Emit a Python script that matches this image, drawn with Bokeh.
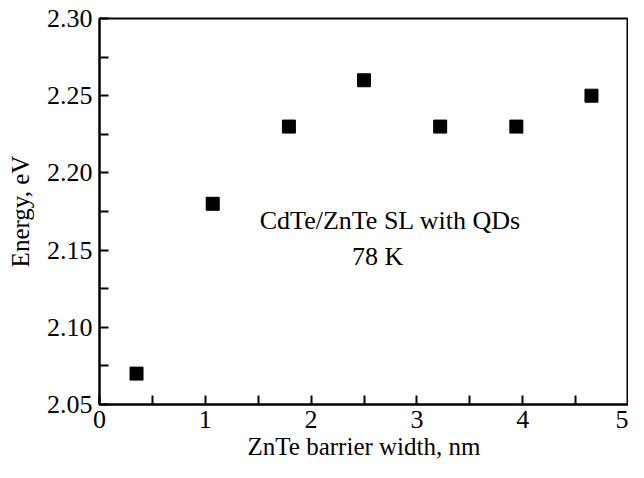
from bokeh.plotting import figure
from bokeh.models import Range1d, FixedTicker, ColumnDataSource, Label
from bokeh.embed import file_html
from bokeh.resources import INLINE

# data
barrier_nm = [0.35, 1.07, 1.79, 2.50, 3.22, 3.94, 4.65]
energy_ev = [2.07, 2.18, 2.23, 2.26, 2.23, 2.23, 2.25]

x_major = [0, 1, 2, 3, 4, 5]
x_minor = [0.5, 1.5, 2.5, 3.5, 4.5]
y_major = [2.05, 2.10, 2.15, 2.20, 2.25, 2.30]
y_minor = [2.075, 2.125, 2.175, 2.225, 2.275]
y_labels = {2.05: "2.05", 2.10: "2.10", 2.15: "2.15", 2.20: "2.20", 2.25: "2.25", 2.30: "2.30"}

note_line1 = "CdTe/ZnTe SL with QDs"
note_line2 = "78 K"

FONT = "Liberation Serif"

p = figure(width=628, height=462, output_backend="svg", toolbar_location=None,
           x_range=Range1d(0, 5), y_range=Range1d(2.05, 2.30),
           min_border_left=99, min_border_right=0, min_border_top=18, min_border_bottom=0)

p.background_fill_color = "white"
p.border_fill_color = "white"
p.outline_line_color = "black"
p.outline_line_width = 2
p.xgrid.visible = False
p.ygrid.visible = False

src = ColumnDataSource(dict(x=barrier_nm, y=energy_ev))
p.scatter("x", "y", source=src, marker="square", size=13, color="black")

for ax in (p.xaxis[0], p.yaxis[0]):
    ax.axis_line_color = "black"
    ax.axis_line_width = 2
    ax.major_tick_line_width = 2
    ax.minor_tick_line_width = 2
    ax.major_tick_in = 9
    ax.major_tick_out = 0
    ax.minor_tick_in = 9
    ax.minor_tick_out = 0
    ax.major_label_text_font = FONT
    ax.major_label_text_font_size = "26px"
    ax.major_label_text_color = "black"
    ax.axis_label_text_font = FONT
    ax.axis_label_text_font_size = "25px"
    ax.axis_label_text_font_style = "normal"
    ax.axis_label_text_color = "black"

p.xaxis.ticker = FixedTicker(ticks=x_major, minor_ticks=x_minor)
p.yaxis.ticker = FixedTicker(ticks=y_major, minor_ticks=y_minor)
p.yaxis.major_label_overrides = y_labels
p.xaxis.axis_label = "ZnTe barrier width, nm"
p.yaxis.axis_label = "Energy, eV"
p.xaxis.major_label_standoff = 6
p.yaxis.major_label_standoff = 7
p.xaxis.axis_label_standoff = 2
p.yaxis.axis_label_standoff = 10

p.add_layout(Label(x=2.75, y=2.169, text=note_line1, text_align="center",
                   text_baseline="alphabetic", text_font=FONT,
                   text_font_size="26px", text_color="black"))
p.add_layout(Label(x=2.63, y=2.146, text=note_line2, text_align="center",
                   text_baseline="alphabetic", text_font=FONT,
                   text_font_size="26px", text_color="black"))

open("out.html", "w").write(file_html(p, INLINE))
